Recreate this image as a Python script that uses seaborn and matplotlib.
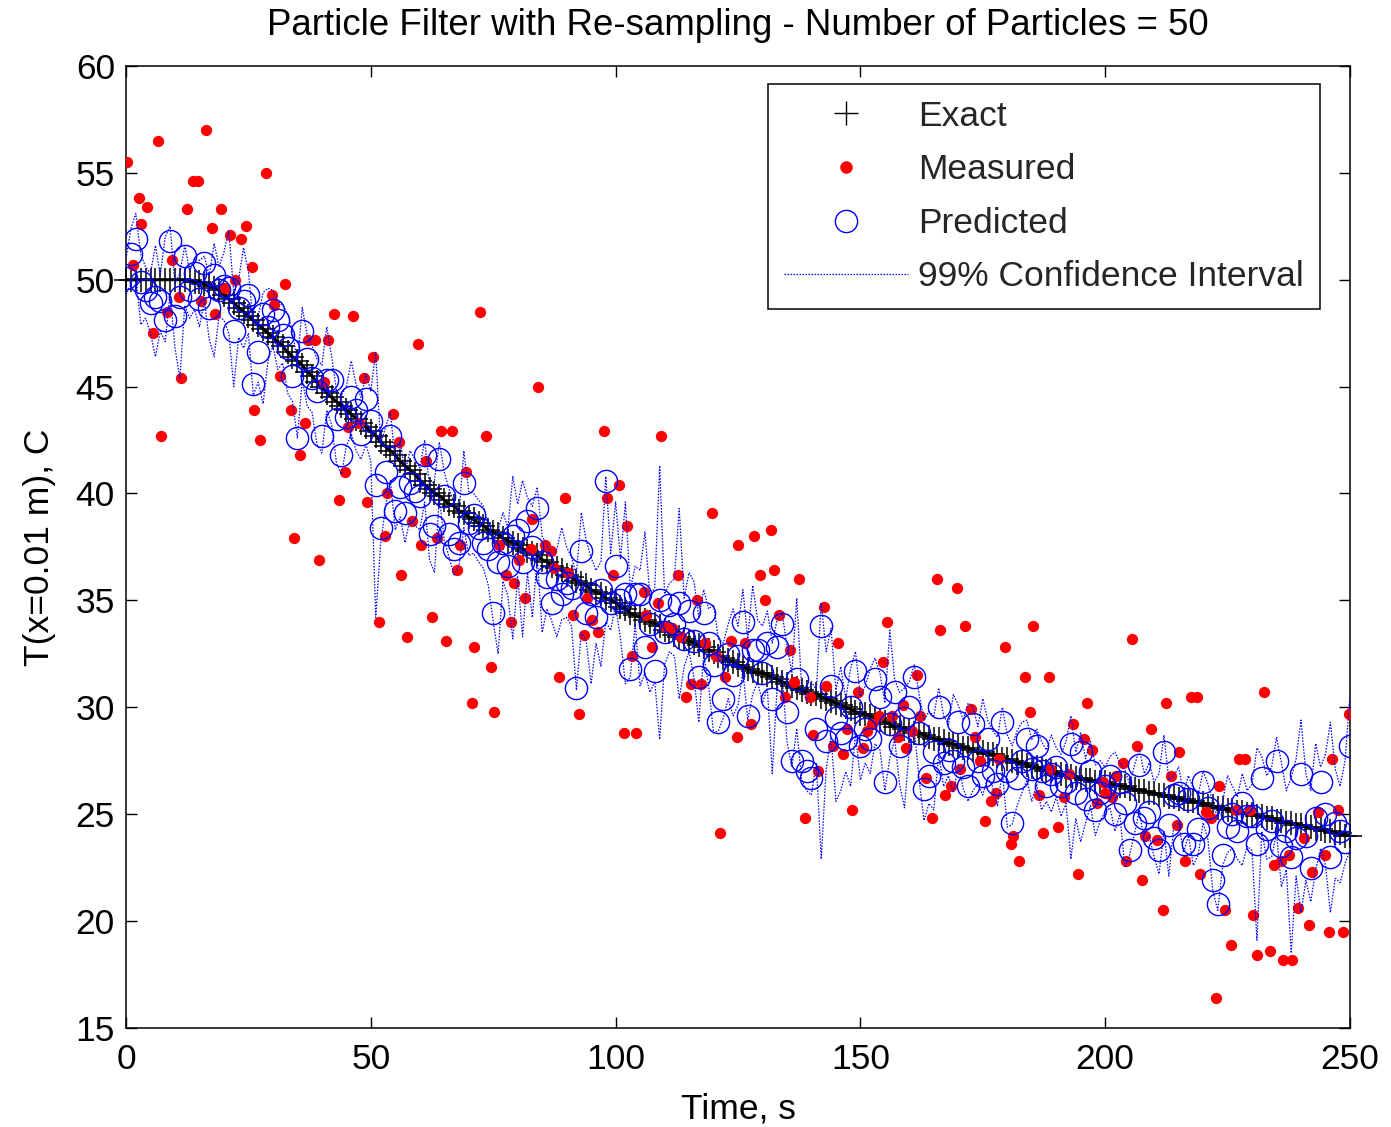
import matplotlib
matplotlib.use("Agg")
import matplotlib.pyplot as plt
from matplotlib.lines import Line2D
import seaborn as sns

# ---------------- data ----------------
time = list(range(0, 251))

exact = [
    50.0, 50.0, 50.0, 50.0, 50.0, 50.0, 50.0, 50.0, 50.0, 50.0,
    50.0, 50.0, 50.0, 50.0, 49.9, 49.9, 49.8, 49.7, 49.6, 49.5,
    49.3, 49.1, 48.9, 48.7, 48.5, 48.3, 48.1, 47.9, 47.7, 47.5,
    47.3, 47.1, 46.9, 46.6, 46.4, 46.2, 46.0, 45.7, 45.5, 45.2,
    45.0, 44.7, 44.5, 44.3, 44.1, 43.9, 43.7, 43.5, 43.3, 43.1,
    42.9, 42.7, 42.4, 42.2, 42.0, 41.8, 41.5, 41.3, 41.1, 40.9,
    40.6, 40.4, 40.2, 40.0, 39.9, 39.7, 39.5, 39.4, 39.2, 39.1,
    38.9, 38.8, 38.6, 38.5, 38.3, 38.2, 38.1, 37.9, 37.8, 37.7,
    37.6, 37.4, 37.3, 37.2, 37.1, 36.9, 36.8, 36.6, 36.5, 36.4,
    36.2, 36.1, 35.9, 35.8, 35.7, 35.5, 35.4, 35.3, 35.1, 35.0,
    34.9, 34.7, 34.6, 34.4, 34.3, 34.2, 34.1, 34.0, 33.9, 33.8,
    33.6, 33.5, 33.4, 33.3, 33.2, 33.1, 33.0, 32.9, 32.8, 32.7,
    32.6, 32.4, 32.3, 32.2, 32.1, 32.0, 31.9, 31.8, 31.7, 31.6,
    31.6, 31.5, 31.4, 31.3, 31.2, 31.1, 31.0, 30.9, 30.8, 30.7,
    30.6, 30.6, 30.5, 30.4, 30.3, 30.2, 30.1, 30.0, 29.9, 29.8,
    29.7, 29.7, 29.6, 29.5, 29.4, 29.3, 29.2, 29.1, 29.1, 29.0,
    28.9, 28.8, 28.8, 28.7, 28.6, 28.5, 28.5, 28.4, 28.3, 28.3,
    28.2, 28.1, 28.1, 28.0, 27.9, 27.9, 27.8, 27.8, 27.7, 27.6,
    27.6, 27.5, 27.4, 27.4, 27.3, 27.2, 27.2, 27.1, 27.0, 27.0,
    26.9, 26.9, 26.8, 26.8, 26.7, 26.7, 26.6, 26.6, 26.5, 26.5,
    26.5, 26.4, 26.4, 26.3, 26.3, 26.2, 26.2, 26.1, 26.1, 26.0,
    26.0, 25.9, 25.9, 25.8, 25.8, 25.7, 25.7, 25.6, 25.6, 25.5,
    25.5, 25.4, 25.4, 25.3, 25.3, 25.2, 25.2, 25.1, 25.1, 25.0,
    25.0, 24.9, 24.9, 24.8, 24.8, 24.7, 24.7, 24.6, 24.6, 24.5,
    24.5, 24.4, 24.4, 24.3, 24.3, 24.2, 24.2, 24.1, 24.1, 24.0,
    24.0,
]

predicted = [
    50.1, 51.2, 51.9, 49.9, 49.5, 48.9, 49.2, 49.0, 48.1, 51.8,
    48.3, 49.2, 51.1, 49.5, 50.3, 49.1, 50.8, 48.7, 50.2, 49.5,
    49.7, 49.6, 47.6, 48.7, 49.0, 49.3, 45.1, 46.6, 48.4, 47.8,
    48.6, 48.1, 47.4, 46.8, 45.5, 42.6, 47.6, 46.3, 45.4, 44.8,
    42.7, 45.3, 45.3, 43.5, 41.8, 43.6, 44.5, 43.9, 42.8, 44.4,
    43.4, 40.4, 38.4, 41.0, 42.7, 39.2, 40.3, 39.1, 40.5, 40.1,
    39.9, 41.8, 38.1, 38.5, 41.6, 39.9, 38.1, 37.4, 37.7, 40.5,
    38.6, 39.0, 38.4, 37.7, 37.4, 34.4, 36.8, 37.7, 36.6, 38.0,
    38.3, 36.8, 38.7, 37.5, 39.3, 36.8, 36.1, 34.9, 36.0, 35.3,
    35.8, 35.6, 30.9, 37.3, 34.4, 35.3, 34.2, 35.5, 40.6, 34.9,
    36.6, 35.0, 35.3, 31.8, 35.3, 35.3, 32.8, 33.9, 31.7, 35.0,
    33.5, 34.8, 33.9, 34.9, 33.2, 34.5, 33.1, 31.4, 34.4, 33.0,
    32.0, 29.3, 30.4, 32.5, 31.5, 32.4, 34.0, 29.6, 32.7, 32.7,
    31.6, 33.0, 30.4, 32.8, 33.9, 29.8, 27.5, 31.3, 27.5, 27.0,
    26.7, 29.0, 33.8, 28.4, 31.0, 29.5, 28.8, 28.5, 30.0, 31.7,
    28.2, 29.0, 28.5, 31.3, 30.5, 26.5, 29.2, 30.7, 28.2, 29.5,
    30.0, 31.4, 28.8, 26.2, 26.8, 27.9, 30.0, 27.4, 28.0, 27.5,
    29.3, 27.2, 26.3, 29.2, 27.5, 26.8, 28.5, 27.0, 26.4, 29.3,
    27.0, 24.6, 26.7, 27.5, 28.5, 27.1, 28.2, 27.0, 26.3, 26.9,
    27.2, 26.3, 26.5, 28.3, 26.0, 27.9, 25.7, 27.0, 25.2, 26.0,
    26.3, 26.8, 25.0, 26.5, 25.5, 23.3, 24.6, 27.3, 24.8, 25.1,
    23.9, 23.3, 27.9, 24.5, 25.9, 26.0, 23.6, 25.7, 23.6, 24.3,
    26.5, 25.3, 21.9, 20.8, 23.1, 24.4, 25.0, 24.2, 25.5, 24.9,
    24.9, 23.6, 26.7, 24.3, 24.7, 27.5, 23.5, 24.2, 23.0, 23.9,
    26.9, 24.0, 22.5, 24.8, 26.5, 25.0, 23.0, 24.6, 24.2, 23.7,
    28.2,
]

ci_upper = [
    51.0, 52.4, 53.1, 51.2, 50.6, 50.3, 51.6, 50.2, 52.0, 52.5,
    49.8, 50.3, 51.6, 50.4, 51.0, 50.9, 51.1, 50.2, 51.7, 50.6,
    51.3, 52.3, 49.4, 50.0, 51.5, 50.4, 47.9, 48.3, 49.4, 49.6,
    49.5, 49.0, 48.8, 48.4, 47.6, 46.1, 48.7, 47.4, 46.9, 46.3,
    46.0, 47.8, 46.4, 44.8, 44.6, 45.0, 46.2, 45.1, 44.5, 45.6,
    44.8, 46.6, 42.3, 43.1, 43.8, 41.5, 42.4, 41.0, 42.0, 41.6,
    41.2, 42.5, 40.3, 40.6, 42.4, 41.0, 40.2, 39.6, 39.0, 42.0,
    40.1, 40.0, 39.7, 39.4, 38.6, 37.8, 38.3, 39.1, 38.4, 40.8,
    39.5, 40.6, 39.8, 39.4, 40.3, 38.0, 37.6, 37.0, 37.4, 38.4,
    37.5, 37.0, 36.2, 39.1, 37.8, 37.0, 36.4, 36.8, 40.8, 37.2,
    39.6, 36.9, 39.6, 35.5, 36.6, 36.4, 38.2, 35.2, 35.6, 41.3,
    35.3, 35.8, 36.0, 39.3, 35.1, 36.3, 35.9, 34.2, 35.5, 34.6,
    34.8, 33.2, 33.0, 33.9, 34.6, 33.8, 35.5, 33.2, 35.7, 34.1,
    33.8, 34.5, 33.0, 34.1, 34.4, 32.9, 31.6, 35.1, 30.9, 30.3,
    31.2, 30.8, 34.9, 32.6, 33.7, 30.8, 31.9, 30.4, 31.8, 32.6,
    30.5, 31.0, 31.8, 32.3, 31.6, 30.2, 33.6, 31.3, 30.7, 30.9,
    31.2, 32.0, 30.6, 29.4, 29.8, 29.6, 30.9, 29.6, 29.2, 30.6,
    30.1, 29.4, 30.2, 30.0, 29.1, 30.4, 29.4, 28.9, 28.6, 30.0,
    28.7, 28.2, 28.9, 29.3, 29.4, 28.5, 29.0, 28.4, 28.0, 28.7,
    28.1, 27.8, 28.4, 29.6, 27.9, 28.8, 27.6, 28.4, 27.3, 27.5,
    27.2, 27.7, 27.9, 27.4, 27.1, 26.4, 27.3, 28.0, 26.9, 27.4,
    26.5, 26.9, 28.7, 26.6, 26.8, 27.2, 26.0, 26.8, 26.2, 25.9,
    27.0, 26.4, 25.5, 24.8, 25.6, 26.8, 26.3, 25.8, 26.9, 26.1,
    26.4, 28.1, 27.7, 26.8, 27.2, 28.6, 27.4, 26.1, 26.7, 27.6,
    29.4, 26.9, 26.1, 28.3, 27.2, 27.8, 29.3, 27.1, 26.3, 27.5,
    30.6,
]

ci_lower = [
    49.3, 49.8, 50.2, 47.9, 48.2, 47.5, 46.4, 47.6, 47.1, 49.4,
    46.8, 45.4, 48.8, 48.2, 48.6, 47.8, 49.0, 47.2, 46.4, 48.3,
    48.1, 47.5, 45.0, 47.3, 46.8, 47.5, 44.6, 45.2, 44.2, 46.2,
    46.9, 45.8, 46.1, 44.7, 44.3, 42.6, 45.3, 44.1, 43.8, 42.3,
    41.9, 43.9, 43.2, 41.4, 40.9, 42.2, 42.8, 42.0, 41.6, 42.3,
    41.5, 34.2, 37.6, 39.4, 40.6, 38.3, 38.9, 37.7, 38.8, 38.5,
    38.3, 39.6, 36.9, 36.3, 39.8, 37.8, 37.0, 36.2, 36.6, 38.4,
    37.1, 37.2, 36.8, 36.5, 35.7, 34.0, 32.5, 35.9, 35.2, 33.2,
    36.1, 33.3, 36.3, 34.2, 37.0, 33.5, 34.6, 34.0, 33.3, 34.1,
    34.2, 33.8, 30.8, 33.5, 33.1, 31.1, 33.0, 31.9, 34.0, 33.6,
    34.8, 33.2, 31.1, 31.4, 33.9, 31.0, 31.6, 30.7, 31.2, 28.5,
    32.0, 32.6, 32.4, 30.4, 31.9, 32.6, 31.4, 29.3, 32.5, 31.0,
    28.8, 28.9, 29.5, 30.4, 29.6, 30.1, 31.7, 29.4, 30.6, 31.2,
    30.2, 30.9, 26.9, 31.0, 31.6, 28.4, 27.2, 29.0, 26.6, 26.1,
    25.9, 27.4, 22.9, 27.1, 28.6, 25.6, 26.1, 27.0, 26.3, 28.8,
    26.6, 27.4, 26.9, 28.3, 28.0, 26.1, 27.6, 28.5, 26.4, 25.3,
    28.1, 29.0, 26.6, 24.7, 25.5, 25.2, 27.8, 26.3, 26.8, 26.0,
    27.3, 26.2, 25.6, 26.1, 26.4, 25.9, 26.7, 26.3, 25.4, 27.0,
    24.4, 24.5, 25.4, 26.0, 26.6, 25.6, 26.4, 25.2, 25.6, 25.1,
    25.8, 24.9, 25.5, 22.9, 24.8, 23.7, 24.6, 25.4, 24.0, 24.7,
    25.1, 25.3, 24.2, 25.0, 22.5, 23.1, 24.1, 25.2, 23.6, 24.0,
    23.0, 22.2, 24.2, 22.1, 24.4, 24.6, 23.2, 24.0, 22.6, 23.1,
    24.6, 23.8, 21.4, 20.5, 22.6, 23.2, 23.4, 22.9, 22.6, 23.5,
    23.3, 19.1, 24.2, 22.9, 23.0, 24.1, 21.6, 22.4, 18.5, 22.1,
    20.4, 21.9, 20.9, 22.4, 23.4, 22.6, 20.4, 22.0, 21.8, 22.7,
    23.3,
]

meas_time = [
    0.2, 1.4, 2.7, 3.1, 4.3, 5.5, 6.5, 7.2, 8.4, 9.4,
    10.8, 11.2, 12.4, 13.7, 14.7, 15.3, 16.3, 17.6, 18.2, 19.4,
    20.2, 21.2, 22.3, 23.4, 24.5, 25.7, 26.2, 27.4, 28.5, 29.8,
    30.3, 31.5, 32.5, 33.7, 34.3, 35.5, 36.6, 37.1, 38.5, 39.5,
    40.5, 41.2, 42.4, 43.5, 44.7, 45.3, 46.4, 47.6, 48.7, 49.3,
    50.4, 51.6, 52.8, 53.4, 54.5, 55.7, 56.2, 57.4, 58.5, 59.6,
    60.2, 61.3, 62.4, 63.6, 64.3, 65.4, 66.6, 67.7, 68.2, 69.4,
    70.6, 71.1, 72.3, 73.5, 74.5, 75.2, 76.2, 77.6, 78.7, 79.2,
    80.3, 81.5, 82.7, 82.9, 84.2, 85.5, 86.9, 87.4, 88.4, 89.6,
    90.2, 91.3, 92.5, 93.5, 94.2, 95.2, 96.5, 97.6, 98.3, 99.5,
    100.6, 101.7, 102.3, 103.4, 104.2, 105.8, 106.3, 107.4, 108.6, 109.2,
    110.1, 111.6, 112.7, 113.4, 114.4, 115.5, 116.7, 117.4, 118.3, 119.6,
    120.6, 121.3, 122.3, 123.6, 124.7, 125.1, 126.4, 127.7, 128.2, 129.4,
    130.6, 131.7, 132.3, 133.4, 134.5, 135.7, 136.4, 137.4, 138.6, 139.8,
    140.3, 141.3, 142.6, 143.0, 144.4, 145.4, 146.4, 147.2, 148.3, 149.6,
    150.6, 151.3, 152.3, 153.7, 154.7, 155.4, 156.5, 157.7, 158.8, 159.3,
    160.5, 161.6, 162.2, 163.4, 164.6, 165.7, 166.3, 167.3, 168.6, 169.7,
    170.3, 171.4, 172.6, 173.5, 174.4, 175.4, 176.6, 177.8, 178.3, 179.5,
    180.7, 181.2, 182.4, 183.6, 184.7, 185.2, 186.4, 187.4, 188.5, 188.7,
    190.4, 191.6, 192.7, 193.4, 194.5, 195.7, 196.2, 197.4, 198.4, 199.6,
    200.0, 201.3, 202.3, 203.7, 204.2, 205.4, 206.6, 207.6, 208.1, 209.4,
    210.6, 211.8, 212.4, 213.5, 214.7, 215.1, 216.3, 217.5, 218.8, 219.3,
    220.6, 221.7, 222.7, 223.2, 224.4, 225.6, 226.8, 227.3, 228.5, 229.5,
    230.2, 231.0, 232.5, 233.6, 234.5, 235.9, 236.4, 237.6, 238.2, 239.4,
    240.6, 241.7, 242.3, 243.4, 244.8, 245.8, 246.3, 247.5, 248.6, 249.8,
]

meas_temp = [
    55.5, 50.7, 53.8, 52.6, 53.4, 47.5, 56.5, 42.7, 48.5, 50.9,
    49.2, 45.4, 53.3, 54.6, 54.6, 49.0, 57.0, 52.4, 48.4, 53.3,
    49.6, 52.1, 50.0, 51.9, 52.5, 50.6, 43.9, 42.5, 55.0, 49.3,
    48.8, 45.5, 49.8, 43.9, 37.9, 41.8, 43.3, 47.2, 47.2, 36.9,
    45.2, 47.2, 48.4, 39.7, 41.0, 43.1, 48.3, 43.3, 45.4, 39.6,
    46.4, 34.0, 38.0, 40.0, 43.7, 42.4, 36.2, 33.3, 38.7, 47.0,
    37.6, 41.5, 34.2, 37.9, 42.9, 33.1, 42.9, 36.4, 37.6, 41.0,
    30.2, 32.8, 48.5, 42.7, 31.9, 29.8, 37.6, 36.2, 34.0, 35.8,
    36.9, 35.1, 37.4, 38.8, 45.0, 37.6, 37.3, 36.5, 31.4, 39.8,
    36.3, 34.3, 29.7, 33.4, 35.1, 34.1, 33.5, 42.9, 39.8, 36.2,
    40.4, 28.8, 38.5, 32.4, 28.8, 35.4, 34.3, 32.8, 34.9, 42.7,
    33.8, 33.7, 36.2, 33.3, 30.5, 31.1, 35.0, 31.1, 33.0, 39.1,
    32.4, 24.1, 31.4, 33.1, 28.6, 37.6, 33.0, 29.2, 38.0, 36.2,
    35.0, 38.3, 36.4, 34.3, 30.5, 32.7, 31.2, 36.0, 24.8, 30.5,
    28.7, 27.0, 34.7, 31.0, 28.2, 33.0, 27.8, 29.0, 25.2, 30.7,
    28.1, 28.9, 29.2, 29.6, 32.1, 34.0, 29.6, 28.6, 30.1, 28.1,
    28.9, 31.5, 29.6, 26.7, 24.8, 36.0, 33.6, 25.9, 26.3, 35.6,
    27.1, 33.8, 29.9, 28.6, 27.5, 24.7, 25.6, 26.0, 27.6, 32.8,
    23.6, 24.0, 22.8, 31.4, 29.8, 33.8, 25.9, 24.1, 31.4, 27.1,
    24.4, 25.8, 26.9, 29.2, 22.2, 28.5, 30.2, 28.0, 25.5, 26.5,
    26.0, 25.8, 26.8, 27.4, 22.8, 33.2, 28.2, 21.9, 24.0, 29.0,
    23.8, 20.5, 30.2, 26.8, 24.5, 27.9, 22.8, 30.5, 30.5, 22.2,
    25.1, 24.8, 16.4, 26.3, 20.5, 18.9, 25.2, 27.6, 27.6, 25.2,
    20.3, 18.4, 30.7, 18.6, 22.6, 22.8, 18.2, 23.1, 18.2, 20.6,
    23.9, 19.8, 22.3, 25.1, 23.1, 19.5, 27.6, 25.2, 19.5, 29.7,
]

x_ticks = [0, 50, 100, 150, 200, 250]
y_ticks = [15, 20, 25, 30, 35, 40, 45, 50, 55, 60]
title = "Particle Filter with Re-sampling - Number of Particles = 50"
legend_labels = ["Exact", "Measured", "Predicted", "99% Confidence Interval"]

# ---------------- styling ----------------
sns.set_theme(style="white")
plt.rcParams["font.family"] = ["Liberation Sans", "DejaVu Sans"]
FS = 25.5

fig = plt.figure(figsize=(13.91, 11.27), dpi=100)
ax = fig.add_axes([0.0906, 0.0879, 0.8799, 0.8536])

# Exact
sns.lineplot(x=time, y=exact, ax=ax, color="black", linewidth=2.2,
             marker="+", markersize=17, markeredgewidth=1.1,
             markeredgecolor="black", clip_on=False, zorder=2,
             estimator=None, sort=False)
# Measured
sns.scatterplot(x=meas_time, y=meas_temp, ax=ax, color="red", s=66,
                linewidth=0, marker="o", zorder=3)
# Predicted
sns.lineplot(x=time, y=predicted, ax=ax, color="blue", linestyle="none",
             marker="o", markersize=16, markerfacecolor="none",
             markeredgecolor="blue", markeredgewidth=1.0, zorder=4,
             estimator=None, sort=False)
# Confidence interval
for band in (ci_upper, ci_lower):
    sns.lineplot(x=time, y=band, ax=ax, color="blue", linewidth=0.9,
                 linestyle=(0, (1.2, 1.2)), zorder=5, estimator=None, sort=False)

ax.set_xlim(0, 250)
ax.set_ylim(15, 60)
ax.set_xticks(x_ticks)
ax.set_yticks(y_ticks)
ax.tick_params(direction="in", length=8, width=1, top=True, right=True,
               bottom=True, left=True, labelsize=FS, colors="black")
ax.tick_params(axis="x", pad=11)
ax.tick_params(axis="y", pad=8)
for sp in ax.spines.values():
    sp.set_visible(True)
    sp.set_color("black")
    sp.set_linewidth(1.1)
ax.set_facecolor("white")

ax.set_title(title, fontsize=26.4, pad=22, color="black")
ax.set_xlabel("Time, s", fontsize=FS, labelpad=12, color="black")
ax.set_ylabel("T(x=0.01 m), C", fontsize=FS, labelpad=14, color="black")

handles = [
    Line2D([], [], color="black", marker="+", markersize=17, markeredgewidth=1.0,
           linestyle="none"),
    Line2D([], [], color="red", marker="o", markersize=8, linestyle="none"),
    Line2D([], [], color="blue", marker="o", markersize=16, markerfacecolor="none",
           markeredgewidth=1.0, linestyle="none"),
    Line2D([], [], color="blue", linewidth=0.9, linestyle=(0, (1.2, 1.2))),
]
leg = ax.legend(handles, legend_labels, loc="upper right",
                bbox_to_anchor=(0.9755, 0.9813), borderaxespad=0,
                frameon=True, fancybox=False, edgecolor="black",
                fontsize=FS, handlelength=3.5, handletextpad=0.3,
                labelspacing=0.58, borderpad=0.45)
leg.get_frame().set_linewidth(1.1)
leg.get_frame().set_facecolor("white")
leg.get_frame().set_alpha(1.0)

fig.savefig("out.png", dpi=100)
